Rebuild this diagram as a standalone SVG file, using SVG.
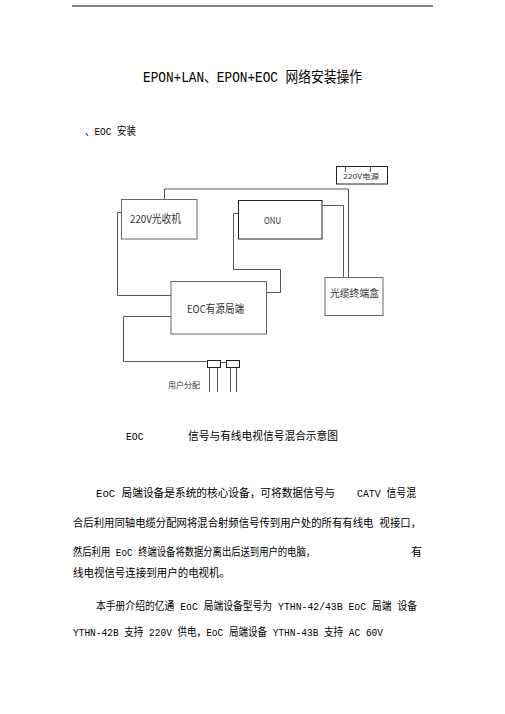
<svg xmlns="http://www.w3.org/2000/svg" width="505" height="714" viewBox="0 0 505 714">
<style>
.bg{fill:#fff}
.t{font-family:"Liberation Mono","Noto Sans CJK SC",monospace;fill:#000}
.lbl{font-family:"Noto Sans CJK SC","Liberation Sans",sans-serif;fill:#333}
.box{fill:#fff;stroke:#666;stroke-width:1}
.dk{stroke:#222}
.ln{fill:none;stroke:#555;stroke-width:1}
</style>
<rect class="bg" x="0" y="0" width="505" height="714"/>
<line x1="72" y1="6" x2="433" y2="6" stroke="#000" stroke-width="1"/>
<text class="t" x="143" y="82" font-size="14.5" textLength="219" lengthAdjust="spacingAndGlyphs">EPON+LAN、EPON+EOC 网络安装操作</text>
<text class="t" x="85" y="135" font-size="11" textLength="51" lengthAdjust="spacingAndGlyphs">、EOC 安装</text>

<g id="connectors">
  <polyline class="ln dk" points="164.5,199 164.5,189 348.5,189 348.5,277"/>
  <polyline class="ln" points="322,205.5 343.5,205.5 343.5,277"/>
  <polyline class="ln" points="238,213.5 233.5,213.5 233.5,269.5 280.5,269.5 280.5,292.5 267,292.5"/>
  <polyline class="ln dk" points="122,212.5 117.5,212.5 117.5,295.5 171,295.5"/>
  <polyline class="ln" points="171,316.5 123.5,316.5 123.5,361.5 207.5,361.5"/>
  <line class="ln dk" x1="220" y1="362.5" x2="226.5" y2="362.5"/>
  <line class="ln" x1="209.5" y1="367" x2="209.5" y2="392"/>
  <line class="ln" x1="217.5" y1="367" x2="217.5" y2="392"/>
  <line class="ln" x1="230.5" y1="367" x2="230.5" y2="392"/>
  <line class="ln" x1="236.5" y1="367" x2="236.5" y2="392"/>
</g>

<g id="power">
  <rect class="box dk" x="336.5" y="166.5" width="51" height="17.5"/>
  <line class="ln" x1="345.5" y1="166.5" x2="345.5" y2="172"/>
  <line class="ln" x1="370.5" y1="166.5" x2="370.5" y2="172"/>
  <text class="lbl" x="343" y="179" font-size="7" textLength="36" lengthAdjust="spacingAndGlyphs">220V电源</text>
</g>
<g id="receiver">
  <rect class="box" x="121.5" y="199.5" width="75.5" height="39.5"/>
  <text class="lbl" x="130" y="223" font-size="11" textLength="51" lengthAdjust="spacingAndGlyphs">220V光收机</text>
</g>
<g id="onu">
  <rect class="box dk" x="238.5" y="200.5" width="83.5" height="38.5"/>
  <text class="lbl" x="264" y="224" font-size="9" textLength="17" lengthAdjust="spacingAndGlyphs">ONU</text>
</g>
<g id="terminal">
  <rect class="box" x="325" y="277.5" width="58" height="38"/>
  <text class="lbl" x="330" y="297" font-size="10.5" textLength="49" lengthAdjust="spacingAndGlyphs">光缆终端盒</text>
</g>
<g id="eoc">
  <rect class="box" x="171" y="281.5" width="95.5" height="52.5"/>
  <text class="lbl" x="187" y="313" font-size="11" textLength="57" lengthAdjust="spacingAndGlyphs">EOC有源局端</text>
</g>
<g id="splitter">
  <rect class="box dk" x="207.5" y="360.5" width="13" height="7"/>
  <rect class="box dk" x="226.5" y="360.5" width="13" height="7"/>
  <text class="lbl" x="168" y="388" font-size="8" textLength="32" lengthAdjust="spacingAndGlyphs">用户分配</text>
</g>

<text class="t" x="126" y="440" font-size="11.5" textLength="17.5" lengthAdjust="spacingAndGlyphs">EOC</text>
<text class="t" x="188" y="440" font-size="11" textLength="150" lengthAdjust="spacingAndGlyphs">信号与有线电视信号混合示意图</text>

<text class="t" x="96" y="497" font-size="11" textLength="239" lengthAdjust="spacingAndGlyphs">EoC 局端设备是系统的核心设备，可将数据信号与</text>
<text class="t" x="357" y="497" font-size="11" textLength="59" lengthAdjust="spacingAndGlyphs">CATV 信号混</text>
<text class="t" x="73" y="527" font-size="11" textLength="348" lengthAdjust="spacingAndGlyphs">合后利用同轴电缆分配网将混合射频信号传到用户处的所有有线电 视接口，</text>
<text class="t" x="73" y="556" font-size="11" textLength="242" lengthAdjust="spacingAndGlyphs">然后利用 EoC 终端设备将数据分离出后送到用户的电脑，</text>
<text class="t" x="411" y="556" font-size="11">有</text>
<text class="t" x="73" y="577" font-size="11" textLength="157" lengthAdjust="spacingAndGlyphs">线电视信号连接到用户的电视机。</text>
<text class="t" x="96" y="610" font-size="11" textLength="321" lengthAdjust="spacingAndGlyphs">本手册介绍的亿通 EoC 局端设备型号为 YTHN-42/43B EoC 局端 设备</text>
<text class="t" x="73" y="636" font-size="11" textLength="310" lengthAdjust="spacingAndGlyphs">YTHN-42B 支持 220V 供电，EoC 局端设备 YTHN-43B 支持 AC 60V</text>
</svg>
